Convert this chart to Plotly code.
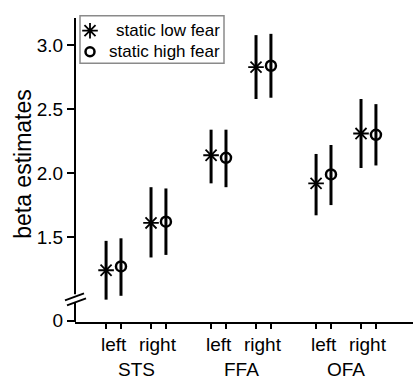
import plotly.graph_objects as go

# Regions of interest and hemispheres
regions = ["STS", "FFA", "OFA"]
hemispheres = ["left", "right"]

# Beta estimates per region x hemisphere (order: STS-L, STS-R, FFA-L, FFA-R, OFA-L, OFA-R)
low_mean = [1.24, 1.61, 2.14, 2.83, 1.92, 2.31]
low_lower = [1.01, 1.34, 1.92, 2.58, 1.67, 2.04]
low_upper = [1.47, 1.89, 2.34, 3.08, 2.15, 2.58]

high_mean = [1.27, 1.62, 2.12, 2.84, 1.99, 2.30]
high_lower = [1.04, 1.36, 1.89, 2.59, 1.75, 2.06]
high_upper = [1.49, 1.88, 2.34, 3.09, 2.22, 2.54]

# Y tick values; the lowest one stands for the broken-off zero
ytick_vals = [0.845, 1.5, 2.0, 2.5, 3.0]
ytick_text = ["0", "1.5", "2.0", "2.5", "3.0"]

HEMI_OFF = 0.214   # offset of each hemisphere from region centre
COND_OFF = 0.071   # offset of each condition within a hemisphere pair

pair_x = []
for r, _ in enumerate(regions):
    for h, _ in enumerate(hemispheres):
        pair_x.append(r + (h * 2 - 1) * HEMI_OFF)
low_x = [p - COND_OFF for p in pair_x]
high_x = [p + COND_OFF for p in pair_x]

FONT = "Liberation Sans, Arial, sans-serif"
fig = go.Figure()

fig.add_trace(go.Scatter(
    x=low_x, y=low_mean, mode="markers", name="static low fear",
    marker=dict(symbol="asterisk-open", size=13, color="black",
                line=dict(width=1.8, color="black")),
    error_y=dict(type="data", symmetric=False,
                 array=[u - m for u, m in zip(low_upper, low_mean)],
                 arrayminus=[m - l for m, l in zip(low_mean, low_lower)],
                 thickness=3, width=0, color="black"),
    showlegend=False,
))
fig.add_trace(go.Scatter(
    x=high_x, y=high_mean, mode="markers", name="static high fear",
    marker=dict(symbol="circle-open", size=10, color="black",
                line=dict(width=2.5, color="black")),
    error_y=dict(type="data", symmetric=False,
                 array=[u - m for u, m in zip(high_upper, high_mean)],
                 arrayminus=[m - l for m, l in zip(high_mean, high_lower)],
                 thickness=3, width=0, color="black"),
    showlegend=False,
))

# Legend glyphs on an invisible overlay axis spanning the plot area
W, H = 338, 304   # plot area size in pixels
leg_left, leg_top = 5, -2.3   # pixels relative to plot area top-left
legend_rows = [("asterisk-open", 13, 1.8, "static low fear"),
               ("circle-open", 9, 2.5, "static high fear")]
for i, (sym, sz, lw, label) in enumerate(legend_rows):
    ypx = 12.7 + 21 * i
    fig.add_trace(go.Scatter(
        x=[(leg_left + 10) / W], y=[1 - ypx / H], xaxis="x2", yaxis="y2",
        mode="markers", showlegend=False, hoverinfo="skip", cliponaxis=False,
        marker=dict(symbol=sym, size=sz, color="black",
                    line=dict(width=lw, color="black")),
    ))
    fig.add_annotation(
        xref="paper", yref="paper", x=(leg_left + 142) / W, y=1 - ypx / H,
        xanchor="right", yanchor="middle", text=label, showarrow=False,
        font=dict(family=FONT, size=17, color="black"),
    )

shapes = [
    # legend frame
    dict(type="rect", xref="paper", yref="paper", layer="below",
         x0=leg_left / W, x1=(leg_left + 144) / W,
         y0=1 - (leg_top + 47.6) / H, y1=1 - leg_top / H,
         line=dict(color="#8a8a8a", width=1.5), fillcolor="white"),
    # y axis line, interrupted by the break
    dict(type="line", xref="paper", yref="y", x0=0, x1=0, y0=1.052, y1=3.214,
         line=dict(color="black", width=2)),
    dict(type="line", xref="paper", yref="y", x0=0, x1=0, y0=0.835, y1=0.99,
         line=dict(color="black", width=2)),
]
# break marks
for dx0, dy0, dx1, dy1 in [(-10, -1, 9, 6), (-8, -6, 11, 1)]:
    shapes.append(dict(type="line", xref="paper", yref="y",
                       xsizemode="pixel", ysizemode="pixel",
                       xanchor=0, yanchor=1.0125,
                       x0=dx0, x1=dx1, y0=dy0, y1=dy1,
                       line=dict(color="black", width=2)))

# hemisphere and region labels
for px, lab in zip(pair_x, hemispheres * len(regions)):
    fig.add_annotation(xref="x", yref="paper", x=px, y=0, yanchor="middle",
                       yshift=-22.5, text=lab, showarrow=False,
                       font=dict(family=FONT, size=19, color="black"))
for r, lab in enumerate(regions):
    fig.add_annotation(xref="x", yref="paper", x=r, y=0, yanchor="middle",
                       yshift=-47.5, text=lab, showarrow=False,
                       font=dict(family=FONT, size=19, color="black"))

# y axis title
fig.add_annotation(xref="paper", yref="y", x=0, y=2.073, xshift=-52,
                   xanchor="center", yanchor="middle", textangle=-90,
                   text="beta estimates", showarrow=False,
                   font=dict(family=FONT, size=23, color="black"))

fig.update_layout(
    width=415, height=381,
    margin=dict(l=75, r=2, t=18, b=59),
    paper_bgcolor="white", plot_bgcolor="white",
    font=dict(family=FONT, size=19, color="black"),
    shapes=shapes,
    xaxis=dict(range=[-0.581, 2.638], showgrid=False, zeroline=False,
               showline=True, linecolor="black", linewidth=2,
               tickvals=low_x + high_x, ticktext=[""] * 12,
               ticks="outside", ticklen=5, tickwidth=2, tickcolor="black"),
    yaxis=dict(range=[0.835, 3.214], showgrid=False, zeroline=False,
               showline=False, tickvals=ytick_vals, ticktext=ytick_text,
               ticks="outside", ticklen=7, tickwidth=2, tickcolor="black",
               tickfont=dict(size=19)),
    xaxis2=dict(overlaying="x", range=[0, 1], visible=False),
    yaxis2=dict(overlaying="y", range=[0, 1], visible=False),
)

fig.write_html("out.html")
